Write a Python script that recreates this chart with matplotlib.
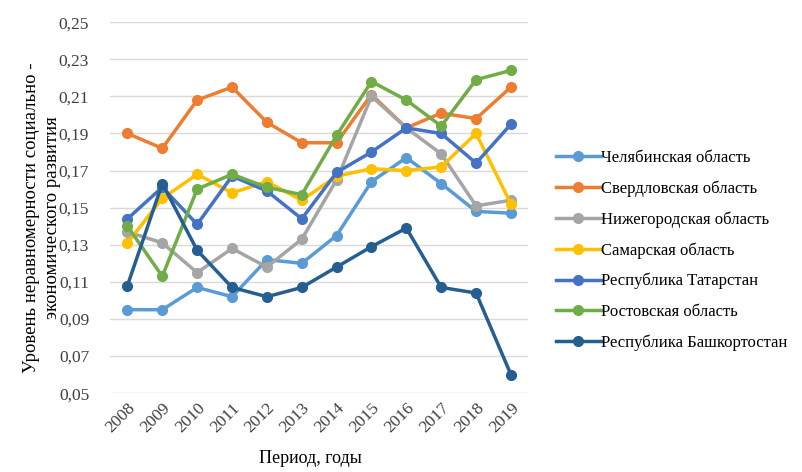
import matplotlib.pyplot as plt
from matplotlib.ticker import FuncFormatter

years = ['2008', '2009', '2010', '2011', '2012', '2013',
         '2014', '2015', '2016', '2017', '2018', '2019']

chelyabinsk = [0.095, 0.095, 0.107, 0.102, 0.122, 0.120, 0.135, 0.164, 0.177, 0.163, 0.148, 0.147]
sverdlovsk = [0.190, 0.182, 0.208, 0.215, 0.196, 0.185, 0.185, 0.211, 0.193, 0.201, 0.198, 0.215]
nizhny = [0.137, 0.131, 0.115, 0.128, 0.118, 0.133, 0.165, 0.210, 0.193, 0.179, 0.151, 0.154]
samara = [0.131, 0.155, 0.168, 0.158, 0.164, 0.154, 0.167, 0.171, 0.170, 0.172, 0.190, 0.152]
tatarstan = [0.144, 0.161, 0.141, 0.167, 0.159, 0.144, 0.169, 0.180, 0.193, 0.190, 0.174, 0.195]
rostov = [0.140, 0.113, 0.160, 0.168, 0.161, 0.157, 0.189, 0.218, 0.208, 0.194, 0.219, 0.224]
bashkortostan = [0.108, 0.163, 0.127, 0.107, 0.102, 0.107, 0.118, 0.129, 0.139, 0.107, 0.104, 0.060]

series = [
    ('Челябинская область', chelyabinsk, '#5B9BD5'),
    ('Свердловская область', sverdlovsk, '#ED7D31'),
    ('Нижегородская область', nizhny, '#A5A5A5'),
    ('Самарская область', samara, '#FFC000'),
    ('Республика Татарстан', tatarstan, '#4472C4'),
    ('Ростовская область', rostov, '#70AD47'),
    ('Республика Башкортостан', bashkortostan, '#255E91'),
]

plt.rcParams['font.family'] = ['Liberation Serif', 'DejaVu Serif']

fig = plt.figure(figsize=(8.03, 4.72), dpi=100)
ax = fig.add_axes([0.137, 0.167, 0.521, 0.786])

x = range(len(years))
for name, vals, col in series:
    ax.plot(x, vals, color=col, lw=2.5, marker='o', ms=7, label=name)

ax.set_xlim(-0.5, len(years) - 0.5)
ax.set_ylim(0.05, 0.25)
ax.set_yticks([0.05 + 0.02 * i for i in range(11)])
ax.yaxis.set_major_formatter(FuncFormatter(lambda v, p: f'{v:.2f}'.replace('.', ',')))
ax.set_xticks(list(x))
ax.set_xticklabels(years, rotation=45, ha='right', rotation_mode='anchor')
ax.tick_params(length=0, labelsize=12.5, colors='#404040')
ax.tick_params(axis='x', pad=5)
ax.tick_params(axis='y', pad=15)
ax.grid(axis='y', color='#d9d9d9', lw=1)
ax.set_axisbelow(True)
for s in ax.spines.values():
    s.set_visible(False)

ax.set_xlabel('Период, годы', fontsize=13, va='top')
ax.xaxis.set_label_coords(0.48, -0.152)
ax.set_ylabel('Уровень неравномерности социально -\nэкономического развития',
              fontsize=13.5, multialignment='center', linespacing=1.3)
ax.yaxis.set_label_coords(-0.118, 0.474)

ax.legend(loc='center left', bbox_to_anchor=(1.065, 0.385), frameon=False,
          fontsize=12, labelspacing=0.86, handlelength=2.7, handletextpad=0.05,
          borderpad=0, borderaxespad=0)

fig.savefig('out.png', dpi=100)
